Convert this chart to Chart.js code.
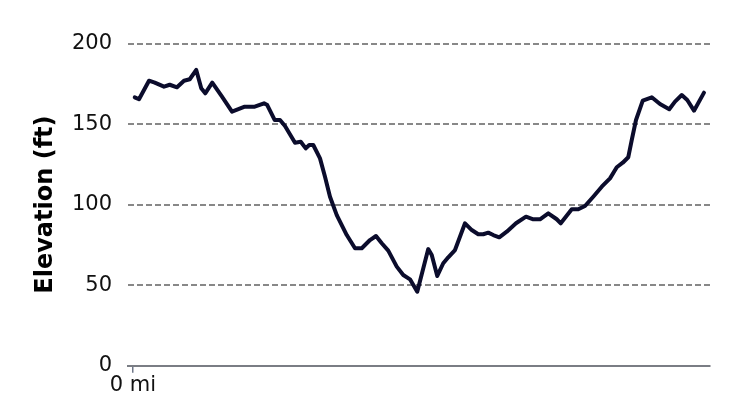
<!DOCTYPE html>
<html>
<head>
<meta charset="utf-8">
<script src="https://cdn.jsdelivr.net/npm/chart.js@4.4.1/dist/chart.umd.min.js"></script>
<style>
  html, body { margin: 0; padding: 0; background: #ffffff; }
  #wrap { width: 749px; height: 405px; position: relative; }
</style>
</head>
<body>
<div id="wrap"><canvas id="c" width="749" height="405"></canvas></div>
<script>
// Distance along route (mi)
const distances = [
  0.007, 0.024, 0.064, 0.087, 0.124, 0.147, 0.176, 0.204, 0.227, 0.253,
  0.273, 0.289, 0.317, 0.356, 0.396, 0.447, 0.487, 0.524, 0.537, 0.567,
  0.588, 0.608, 0.648, 0.671, 0.691, 0.705, 0.721, 0.748, 0.768, 0.788,
  0.815, 0.855, 0.888, 0.915, 0.948, 0.972, 0.995, 1.021, 1.055, 1.081,
  1.108, 1.137, 1.181, 1.195, 1.217, 1.241, 1.261, 1.288, 1.328, 1.355,
  1.381, 1.401, 1.421, 1.441, 1.465, 1.495, 1.532, 1.572, 1.601, 1.628,
  1.661, 1.695, 1.711, 1.755, 1.781, 1.808, 1.841, 1.875, 1.908, 1.935,
  1.959, 1.981, 1.995, 2.012, 2.039, 2.075, 2.108, 2.145, 2.168, 2.195,
  2.217, 2.244, 2.284
];
// Elevation (ft)
const elevations = [
  166.6, 165.4, 176.9, 175.7, 173.2, 174.4, 172.8, 176.9, 177.8, 183.6,
  172.2, 169.1, 175.7, 167.0, 157.7, 160.8, 160.8, 162.9, 161.8, 152.5,
  152.5, 148.8, 138.4, 139.0, 134.9, 137.0, 137.0, 128.7, 117.3, 104.9,
  93.5, 81.1, 72.9, 72.9, 78.0, 80.5, 76.0, 71.4, 61.5, 56.3,
  53.6, 45.9, 72.4, 68.7, 55.7, 63.6, 67.3, 71.8, 88.4, 84.2,
  81.6, 81.6, 82.6, 81.1, 79.7, 83.2, 88.4, 92.5, 90.9, 90.9,
  94.6, 90.9, 88.4, 97.1, 97.1, 99.1, 104.9, 111.1, 116.3, 123.2,
  126.0, 129.4, 140.1, 152.5, 164.5, 166.6, 162.4, 159.2, 163.9, 168.0,
  164.9, 158.3, 169.5
];
const yTicks = [0, 50, 100, 150, 200];
const xTicks = [0];
const xTickLabel = '0 mi';
const yTitle = 'Elevation (ft)';

const points = distances.map((d, i) => ({ x: d, y: elevations[i] }));

new Chart(document.getElementById('c'), {
  type: 'line',
  data: {
    datasets: [{
      data: points,
      borderColor: '#0b0c2c',
      borderWidth: 4,
      pointRadius: 0,
      tension: 0,
      fill: false,
      borderJoinStyle: 'round',
      borderCapStyle: 'round'
    }]
  },
  options: {
    responsive: false,
    animation: false,
    devicePixelRatio: 1,
    layout: { padding: { top: 43.5, right: 39, bottom: 0, left: 0 } },
    plugins: { legend: { display: false }, tooltip: { enabled: false } },
    scales: {
      x: {
        type: 'linear',
        min: -0.02,
        max: 2.308,
        afterBuildTicks: s => { s.ticks = xTicks.map(v => ({ value: v })); },
        afterFit: s => { s.height = 39.3; },
        ticks: {
          autoSkip: false,
          maxRotation: 0,
          padding: 0,
          color: '#111111',
          font: { family: 'DejaVu Sans', size: 21 },
          callback: v => (v === 0 ? xTickLabel : '')
        },
        grid: {
          drawOnChartArea: false,
          drawTicks: true,
          tickLength: 7,
          tickColor: '#6f7789',
          lineWidth: 1.5
        },
        border: { display: true, color: '#7a7d84', width: 2 }
      },
      y: {
        min: 0,
        max: 200,
        afterBuildTicks: s => { s.ticks = yTicks.map(v => ({ value: v })); },
        afterFit: s => { s.width = 128; },
        ticks: {
          padding: 16,
          color: '#111111',
          font: { family: 'DejaVu Sans', size: 21 }
        },
        grid: {
          drawTicks: false,
          color: c => (c.tick && c.tick.value === 0 ? 'rgba(0,0,0,0)' : '#888888'),
          lineWidth: 2
        },
        border: { display: false, dash: [6, 3] },
        title: {
          display: true,
          text: yTitle,
          color: '#000000',
          font: { family: 'DejaVu Sans', size: 24, weight: 'bold' },
          padding: { top: 31, bottom: 0 }
        }
      }
    }
  }
});
</script>
</body>
</html>
